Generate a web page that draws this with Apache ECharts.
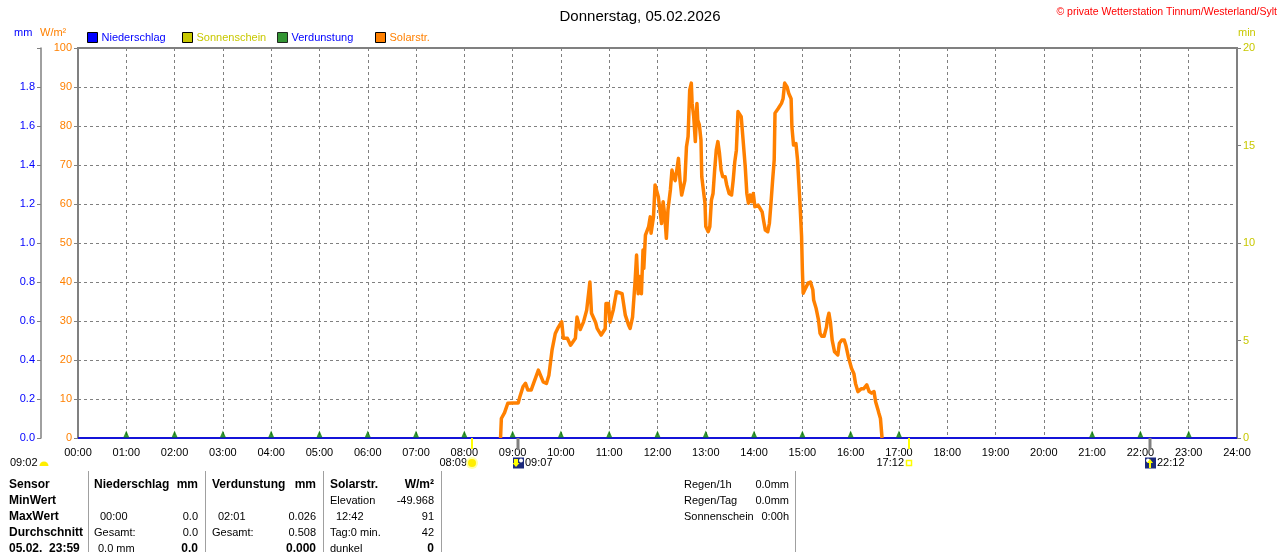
<!DOCTYPE html>
<html>
<head>
<meta charset="utf-8">
<script src="https://cdn.jsdelivr.net/npm/echarts@6/dist/echarts.min.js"></script>
<style>
  html, body { margin: 0; padding: 0; background: #fff; }
  #chart { width: 1280px; height: 552px; }
</style>
</head>
<body>
<div id="chart"></div>
<script>
// Tageskurve Solarstrahlung (W/m²)
const solarTimes = [
  '08:45','08:46','08:50','08:54','09:00','09:07','09:09','09:13','09:16','09:19','09:23','09:26','09:32','09:34','09:38','09:42','09:45','09:49','09:53','09:56',
  '10:01','10:03','10:08','10:12','10:18','10:20','10:24','10:28','10:32','10:36','10:38','10:43','10:45','10:50','10:55','10:56','10:59',
  '11:01','11:05','11:09','11:16','11:20','11:24','11:26','11:29','11:32','11:34','11:36','11:38','11:40','11:42','11:43','11:45','11:47','11:49','11:51','11:52','11:55','11:57','11:59',
  '12:01','12:03','12:05','12:07','12:09','12:11','12:13','12:16','12:18','12:20','12:22','12:24','12:26','12:28','12:30','12:32','12:34','12:36','12:38','12:40','12:42','12:43','12:45','12:47','12:49','12:50','12:52','12:54','12:55','12:57','12:59',
  '13:00','13:03','13:05','13:07','13:09','13:11','13:13','13:15','13:17','13:19','13:21','13:24','13:26','13:29','13:32','13:34','13:36','13:38','13:40','13:42','13:44','13:46','13:49','13:51','13:53','13:55','13:57','13:59',
  '14:01','14:05','14:10','14:12','14:14','14:17','14:19','14:21','14:23','14:25','14:26','14:30','14:34','14:36','14:38','14:41','14:43','14:46','14:47','14:49','14:52','14:54','14:57','14:59',
  '15:00','15:01','15:03','15:07','15:10','15:13','15:14','15:17','15:20','15:22','15:24','15:27','15:30','15:31','15:33','15:35','15:37','15:40','15:42','15:44','15:46','15:49','15:52','15:54','15:57',
  '16:01','16:04','16:06','16:09','16:13','16:16','16:20','16:23','16:26','16:29','16:31','16:34','16:35','16:37','16:38','16:39'
];
const solarValues = [
  0,5,6.5,8.9,9,9,10.6,13.2,14,12.3,12.3,14,17.4,17.8,14.4,14,16,22.6,26.8,28.1,
  29.8,25.6,25.6,23.8,25.6,31,27.8,29.7,32.8,40,32,29.7,28.1,26.4,28,34.5,34.5,
  29.7,32.8,37.5,37,31.5,29,28.1,31,39.7,46.9,37,41.4,37,48.2,43.5,52,51.7,54.2,56.7,52.5,56.7,64.9,64.9,
  61.9,58.5,55,60.6,57,51.2,58.5,63.6,68.7,67,66,68.7,71.7,66,62.3,61.9,66,74.7,77.3,89.2,91,85.8,82.4,76,85.8,81.5,80.3,76.4,67,63.6,60.2,
  54.2,52.9,54.2,61,62.7,68.7,73.8,76,73,68.7,67,67,64.9,62.7,62.3,66,70.8,73.8,83.7,84.2,82.4,77.3,69.6,62.7,60.2,62.3,60.6,62.7,
  59.3,59.7,58,55.5,53.3,52.9,55,60.2,66,71.3,83.3,84.5,85.8,87,91,90,88.4,87,79.8,75.1,75.5,71.3,60.2,51.7,
  43.1,37.1,38,39.7,40,38,35.4,33.3,30.3,26.8,26.1,26.1,28.5,30.3,32,29.4,25.1,22.1,22.4,21.3,24.3,25.1,25.1,23.8,20.9,
  17.9,16.5,14,11.9,12.6,12.6,13.6,11.9,11.5,11.9,9.3,7.2,6.4,5,5,0
];

// Niederschlag (mm), stündlich
const rainTimes = ['00:00','01:00','02:00','03:00','04:00','05:00','06:00','07:00','08:00','09:00','10:00','11:00','12:00',
  '13:00','14:00','15:00','16:00','17:00','18:00','19:00','20:00','21:00','22:00','23:00','24:00'];
const rainValues = [0,0,0,0,0,0,0,0,0,0,0,0,0,0,0,0,0,0,0,0,0,0,0,0,0];

// Verdunstung – Marker
const evapTimes = ['01:00','02:00','03:00','04:00','05:00','06:00','07:00','08:00','09:00','10:00','11:00','12:00',
  '13:00','14:00','15:00','16:00','17:00','21:00','22:00','23:00'];
const evapValues = [0,0,0,0,0,0,0,0,0,0,0,0,0,0,0,0,0,0,0,0];

// Sonnenschein (min pro Stunde)
const sunTimes = ['00:30','01:30','02:30','03:30','04:30','05:30','06:30','07:30','08:30','09:30','10:30','11:30',
  '12:30','13:30','14:30','15:30','16:30','17:30','18:30','19:30','20:30','21:30','22:30','23:30'];
const sunValues = [0,0,0,0,0,0,0,0,0,0,0,0,0,0,0,0,0,0,0,0,0,0,0,0];

// Sonne / Mond Auf- und Untergang
const sunEvents = ['08:09', '17:12'];
const moonEvents = ['09:07', '22:12'];

const hourTicks = ['00:00','01:00','02:00','03:00','04:00','05:00','06:00','07:00','08:00','09:00','10:00','11:00','12:00',
  '13:00','14:00','15:00','16:00','17:00','18:00','19:00','20:00','21:00','22:00','23:00','24:00'];
const solarTicks = [0, 10, 20, 30, 40, 50, 60, 70, 80, 90, 100];
const mmTicks = ['0.0','0.2','0.4','0.6','0.8','1.0','1.2','1.4','1.6','1.8'];

const FONT = 'Liberation Sans, Arial, sans-serif';
const GRAY = '#808080';
const ORANGE = '#ff8000';
const OLIVE = '#c8c800';

function toMin(t) {
  const p = t.split(':');
  return (+p[0]) * 60 + (+p[1]);
}
function pairs(times, vals) {
  return times.map((t, i) => [toMin(t), vals[i]]);
}

// Auf-/Untergangsmarken unter der Zeitachse
function renderSun(params, api) {
  const p = api.coord([api.value(0), 0]);
  const x = Math.round(p[0]), y = p[1];
  const rise = params.dataIndex === 0;
  const cy = y + 25;
  const kids = [
    { type: 'rect', shape: { x: x - 1, y: y, width: 2, height: 11 }, style: { fill: '#ffff00' } },
    { type: 'text', style: { text: sunEvents[params.dataIndex], x: x - 5, y: cy, align: 'right', verticalAlign: 'middle',
      fill: '#000', font: '11px ' + FONT } }
  ];
  if (rise) {
    kids.push({ type: 'circle', shape: { cx: x, cy: cy, r: 6 }, style: { fill: '#ffffa8' } });
    kids.push({ type: 'circle', shape: { cx: x, cy: cy, r: 4 }, style: { fill: '#ffee00' } });
  } else {
    kids.push({ type: 'rect', shape: { x: x - 2.5, y: cy - 2.5, width: 5, height: 5 }, style: { fill: '#fff', stroke: '#ffff00', lineWidth: 1.5 } });
  }
  return { type: 'group', children: kids };
}

function renderMoon(params, api) {
  const p = api.coord([api.value(0), 0]);
  const x = Math.round(p[0]), y = p[1];
  const rise = params.dataIndex === 0;
  const cy = y + 25;
  const arrow = rise
    ? [[x - 4, cy - 4], [x, cy - 4], [x, cy], [x + 1.5, cy], [x - 2, cy + 4], [x - 5.5, cy], [x - 4, cy]]
    : [[x - 1, cy + 5], [x + 1, cy + 5], [x + 1, cy], [x + 3, cy], [x, cy - 4], [x - 3, cy], [x - 1, cy]];
  return {
    type: 'group',
    children: [
      { type: 'rect', shape: { x: x - 1.5, y: y, width: 3, height: 12 }, style: { fill: GRAY } },
      { type: 'rect', shape: { x: x - 5, y: cy - 5.5, width: 11, height: 11 }, style: { fill: '#1c2a7c' } },
      { type: 'circle', shape: { cx: rise ? x + 3 : x - 2, cy: cy - 2.5, r: 2 }, style: { fill: '#fff' } },
      { type: 'polygon', shape: { points: arrow }, style: { fill: '#ffff00' } },
      { type: 'text', style: { text: moonEvents[params.dataIndex], x: x + 7, y: cy, align: 'left', verticalAlign: 'middle',
        fill: '#000', font: '11px ' + FONT } }
    ]
  };
}

// Tabelle unten
const rowY = [485, 501, 517, 533, 549];
const tableCells = [
  // [x, row, text, align, bold]
  [9, 0, 'Sensor', 'left', true], [9, 1, 'MinWert', 'left', true], [9, 2, 'MaxWert', 'left', true],
  [9, 3, 'Durchschnitt', 'left', true], [9, 4, '05.02.  23:59', 'left', true],
  [94, 0, 'Niederschlag', 'left', true], [198, 0, 'mm', 'right', true],
  [100, 2, '00:00', 'left', false], [198, 2, '0.0', 'right', false],
  [94, 3, 'Gesamt:', 'left', false], [198, 3, '0.0', 'right', false],
  [98, 4, '0.0 mm', 'left', false], [198, 4, '0.0', 'right', true],
  [212, 0, 'Verdunstung', 'left', true], [316, 0, 'mm', 'right', true],
  [218, 2, '02:01', 'left', false], [316, 2, '0.026', 'right', false],
  [212, 3, 'Gesamt:', 'left', false], [316, 3, '0.508', 'right', false],
  [316, 4, '0.000', 'right', true],
  [330, 0, 'Solarstr.', 'left', true], [434, 0, 'W/m²', 'right', true],
  [330, 1, 'Elevation', 'left', false], [434, 1, '-49.968', 'right', false],
  [336, 2, '12:42', 'left', false], [434, 2, '91', 'right', false],
  [330, 3, 'Tag:0 min.', 'left', false], [434, 3, '42', 'right', false],
  [330, 4, 'dunkel', 'left', false], [434, 4, '0', 'right', true],
  [684, 0, 'Regen/1h', 'left', false], [789, 0, '0.0mm', 'right', false],
  [684, 1, 'Regen/Tag', 'left', false], [789, 1, '0.0mm', 'right', false],
  [684, 2, 'Sonnenschein', 'left', false], [789, 2, '0:00h', 'right', false]
];
const tableSeparators = [88.5, 205.5, 323.5, 441.5, 795.5];

const graphics = [];
tableCells.forEach(c => {
  graphics.push({
    type: 'text', x: c[0], y: rowY[c[1]],
    style: { text: c[2], align: c[3], verticalAlign: 'middle', fill: '#000',
      font: (c[4] ? 'bold 12px ' : '11px ') + FONT }
  });
});
tableSeparators.forEach(x => {
  graphics.push({ type: 'line', shape: { x1: x, y1: 471, x2: x, y2: 552 }, style: { stroke: '#a0a0a0', lineWidth: 1 } });
});
// Achsen-Einheiten, Copyright, Tageslänge
graphics.push(
  { type: 'text', x: 14, y: 33, style: { text: 'mm', fill: '#0000ff', font: '11px ' + FONT, verticalAlign: 'middle' } },
  { type: 'text', x: 40, y: 33, style: { text: 'W/m²', fill: ORANGE, font: '11px ' + FONT, verticalAlign: 'middle' } },
  { type: 'text', x: 1238, y: 33, style: { text: 'min', fill: OLIVE, font: '11px ' + FONT, verticalAlign: 'middle' } },
  { type: 'text', x: 1277, y: 12, style: { text: '© private Wetterstation Tinnum/Westerland/Sylt', fill: '#ff0000',
    font: '10.5px ' + FONT, align: 'right', verticalAlign: 'middle' } },
  { type: 'text', x: 10, y: 463, style: { text: '09:02', fill: '#000', font: '11px ' + FONT, verticalAlign: 'middle' } },
  { type: 'sector', shape: { cx: 44, cy: 466, r0: 0, r: 4.5, startAngle: Math.PI, endAngle: Math.PI * 2 }, style: { fill: '#ffee00' } }
);

const chart = echarts.init(document.getElementById('chart'), null, { renderer: 'canvas' });

function legendBox(left, name, color) {
  return {
    left: left, top: 32, padding: 0, selectedMode: false, icon: 'rect', itemWidth: 10, itemHeight: 10,
    itemStyle: { borderColor: '#000', borderWidth: 1 },
    textStyle: { color: color, fontSize: 11, fontFamily: FONT, padding: [0, 0, 0, -1] },
    data: [{ name: name }]
  };
}

const option = {
  backgroundColor: '#fff',
  animation: false,
  title: {
    text: 'Donnerstag, 05.02.2026', left: 'center', top: 4,
    textStyle: { fontSize: 15, fontWeight: 'normal', color: '#000', fontFamily: FONT }
  },
  legend: [
    legendBox(87, 'Niederschlag', '#0000ff'),
    legendBox(182, 'Sonnenschein', OLIVE),
    legendBox(277, 'Verdunstung', '#0000ff'),
    legendBox(375, 'Solarstr.', ORANGE)
  ],
  grid: {
    left: 78, right: 43, top: 48, bottom: 114,
    show: true, borderColor: GRAY, borderWidth: 2,
    outerBoundsMode: 'none'
  },
  xAxis: {
    type: 'value', min: 0, max: 1440, interval: 60,
    axisLine: { lineStyle: { color: GRAY, width: 2 } },
    axisTick: { show: false },
    axisLabel: { formatter: v => hourTicks[Math.round(v / 60)], color: '#000', fontSize: 11, fontFamily: FONT, margin: 9,
      showMinLabel: true, showMaxLabel: true, hideOverlap: false },
    splitLine: { lineStyle: { color: GRAY, type: [3, 3], width: 1 } }
  },
  yAxis: [
    {
      type: 'value', min: 0, max: 100, interval: 10, position: 'left',
      axisLine: { show: true, lineStyle: { color: GRAY, width: 2 } },
      axisTick: { show: true, length: 4, lineStyle: { color: GRAY } },
      axisLabel: { formatter: v => String(solarTicks[Math.round(v / 10)]), color: ORANGE, fontSize: 11, fontFamily: FONT, margin: 6 },
      splitLine: { lineStyle: { color: GRAY, type: [3, 3], width: 1 } }
    },
    {
      type: 'value', min: 0, max: 2, interval: 0.2, position: 'left', offset: 37,
      axisLine: { show: true, lineStyle: { color: GRAY, width: 1.5 } },
      axisTick: { show: true, length: 4, lineStyle: { color: GRAY } },
      axisLabel: { formatter: v => mmTicks[Math.round(v * 5)] || '', color: '#0000ff', fontSize: 11, fontFamily: FONT, margin: 6 },
      splitLine: { show: false }
    },
    {
      type: 'value', min: 0, max: 20, interval: 5, position: 'right',
      axisLine: { show: true, lineStyle: { color: GRAY, width: 2 } },
      axisTick: { show: true, length: 4, lineStyle: { color: GRAY } },
      axisLabel: { color: OLIVE, fontSize: 11, fontFamily: FONT, margin: 6 },
      splitLine: { show: false }
    }
  ],
  series: [
    {
      name: 'Sonnenschein', type: 'bar', yAxisIndex: 2, barWidth: 40,
      itemStyle: { color: OLIVE },
      data: pairs(sunTimes, sunValues)
    },
    {
      name: 'Niederschlag', type: 'line', yAxisIndex: 1, symbol: 'none', z: 3,
      itemStyle: { color: '#0000ff' },
      lineStyle: { color: '#1414d8', width: 2 },
      data: pairs(rainTimes, rainValues)
    },
    {
      name: 'Verdunstung', type: 'scatter', yAxisIndex: 1, symbol: 'triangle', symbolSize: [6, 7], symbolOffset: [0, -4], z: 4,
      itemStyle: { color: '#007a00' },
      data: pairs(evapTimes, evapValues)
    },
    {
      name: 'Solarstr.', type: 'line', yAxisIndex: 0, symbol: 'none', z: 5,
      itemStyle: { color: ORANGE },
      lineStyle: { color: ORANGE, width: 3.5, join: 'round' },
      data: pairs(solarTimes, solarValues)
    },
    {
      name: 'SonneAufUnter', type: 'custom', yAxisIndex: 0, clip: false, z: 6,
      renderItem: renderSun,
      data: sunEvents.map(t => [toMin(t), 0])
    },
    {
      name: 'MondAufUnter', type: 'custom', yAxisIndex: 0, clip: false, z: 6,
      renderItem: renderMoon,
      data: moonEvents.map(t => [toMin(t), 0])
    }
  ],
  graphic: graphics
};

chart.setOption(option);
</script>
</body>
</html>
